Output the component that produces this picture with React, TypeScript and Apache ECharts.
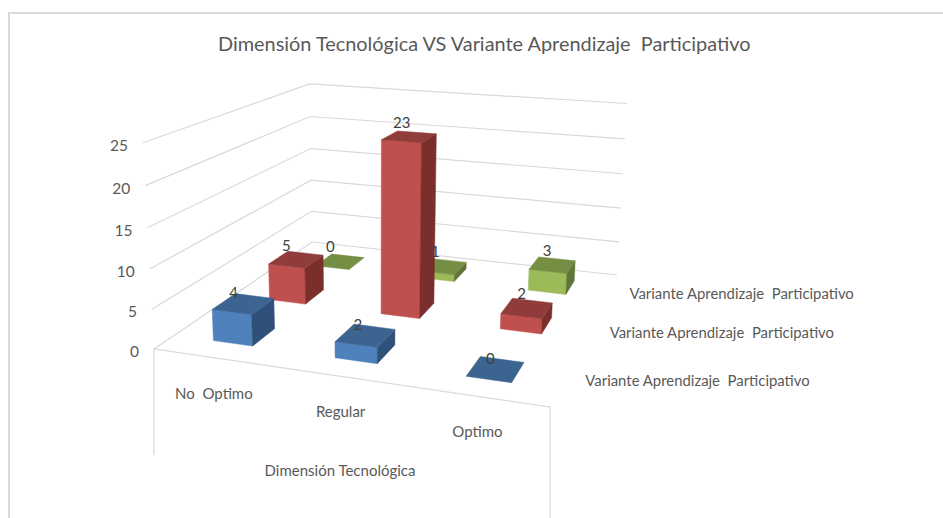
import React, { useEffect, useRef } from "react";
import * as echarts from "echarts";

const W = 943;
const H = 518;
const FONT = "Lato, 'Open Sans', sans-serif";
const TEXT = "#595959";
const RULE = "#d9d9d9";

const titleText = "Dimensión Tecnológica VS Variante Aprendizaje  Participativo";
const axisTitle = "Dimensión Tecnológica";
const categories = ["No  Optimo", "Regular", "Optimo"];
const valueTicks = [0, 5, 10, 15, 20, 25];
const seriesName = "Variante Aprendizaje  Participativo";
const seriesA = [4, 2, 0];
const seriesB = [5, 23, 2];
const seriesC = [0, 1, 3];

const palette = [
  { front: "#4f81bd", top: "#3c6490", side: "#2f5078" },
  { front: "#c0504d", top: "#8f3c3a", side: "#7a2f2d" },
  { front: "#9bbb59", top: "#748f43", side: "#5f7537" },
];

// Projective camera of the chart's box: floor (u, v) in 0..1, height h in 0..1
const CAM = {
  a: 336.16, b: 258.6, c: 154,
  d: 13.7, e: -29, f: 349,
  g: -0.1088, i: 0.3223,
  hx: -17.8, hy: -213, hw: -0.0476,
};
function project(u: number, v: number, h: number): [number, number] {
  const w = CAM.g * u + CAM.i * v + 1 + CAM.hw * h;
  return [
    (CAM.a * u + CAM.b * v + CAM.c + CAM.hx * h) / w,
    (CAM.d * u + CAM.e * v + CAM.f + CAM.hy * h) / w,
  ];
}

const HALF_U = 0.055;
const HALF_V = 0.065;
const YMAX = valueTicks[valueTicks.length - 1];
const LABEL_DY = [-11.5, -15, -15.5];

// Scales come from the hidden cartesian axes (x: 0..3 categories, y: 0..25 values)
function scaled(api: any, x: number, val: number) {
  const p = api.coord([x, val]);
  return { u: p[0] / W, h: (H - p[1]) / H };
}

function text(t: string, x: number, y: number, size: number, align = "center", fill = TEXT) {
  return {
    type: "text",
    silent: true,
    style: { text: t, x, y, fill, fontSize: size, fontFamily: FONT, align, verticalAlign: "middle" },
  };
}

function poly(points: number[][], fill: string) {
  return { type: "polygon", silent: true, shape: { points }, style: { fill, stroke: fill, lineWidth: 0.5 } };
}

function barSeries(values: number[], depth: number) {
  const col = palette[depth];
  const vc = (depth + 0.5) / 3;
  return {
    type: "custom",
    coordinateSystem: "cartesian2d",
    clip: false,
    z: 3 + (2 - depth),
    data: values.map((v, i) => [i + 0.5, v]),
    renderItem: (_: any, api: any) => {
      const { u, h } = scaled(api, api.value(0), api.value(1));
      const u0 = u - HALF_U, u1 = u + HALF_U;
      const v0 = vc - HALF_V, v1 = vc + HALF_V;
      const children: any[] = [];
      if (h > 0) {
        children.push(poly([project(u0, v0, 0), project(u1, v0, 0), project(u1, v0, h), project(u0, v0, h)], col.front));
        children.push(poly([project(u1, v0, 0), project(u1, v1, 0), project(u1, v1, h), project(u1, v0, h)], col.side));
      }
      children.push(poly([project(u0, v0, h), project(u1, v0, h), project(u1, v1, h), project(u0, v1, h)], col.top));
      return { type: "group", children };
    },
  };
}

function labelSeries(values: number[], depth: number) {
  const vc = (depth + 0.5) / 3;
  return {
    type: "custom",
    coordinateSystem: "cartesian2d",
    clip: false,
    z: 10,
    data: values.map((v, i) => [i + 0.5, v]),
    renderItem: (_: any, api: any) => {
      const { u, h } = scaled(api, api.value(0), api.value(1));
      const p = project(u, vc, h);
      return text(String(api.value(1)), p[0] - 11 + 7 * u, p[1] + LABEL_DY[depth], 15, "center", "#404040");
    },
  };
}

const wallSeries = {
  type: "custom",
  coordinateSystem: "cartesian2d",
  clip: false,
  z: 1,
  data: valueTicks.map((t) => [0, t]),
  renderItem: (_: any, api: any) => {
    const val = api.value(1);
    const { h } = scaled(api, 0, val);
    const start = project(0, 0, h);
    return {
      type: "group",
      children: [
        {
          type: "polyline",
          silent: true,
          shape: { points: [start, project(0, 1, h), project(1, 1, h)] },
          style: { stroke: RULE, lineWidth: 1.2, fill: "none" },
        },
        text(String(val), start[0] - 15, start[1] + 2, 15.5, "right"),
      ],
    };
  },
};

const floorEdgeSeries = {
  type: "custom",
  coordinateSystem: "cartesian2d",
  clip: false,
  z: 1,
  data: categories.map((_, i) => [i + 0.5, 0]),
  renderItem: (params: any, api: any) => {
    const { u } = scaled(api, api.value(0), 0);
    const p = project(u, 0, 0);
    const children: any[] = [text(categories[params.dataIndex], p[0], p[1] + 35, 15)];
    if (params.dataIndex === 0) {
      const a = project(0, 0, 0);
      const b = project(1, 0, 0);
      children.push({
        type: "polyline",
        silent: true,
        shape: { points: [[a[0], 455], a, b, [b[0], H]] },
        style: { stroke: RULE, lineWidth: 1.2, fill: "none" },
      });
    }
    return { type: "group", children };
  },
};

const depthLabelSeries = {
  type: "custom",
  coordinateSystem: "cartesian2d",
  clip: false,
  z: 1,
  data: [0, 1, 2].map((d) => [3, d]),
  renderItem: (_: any, api: any) => {
    const p = project(1, (api.value(1) + 0.5) / 3, 0);
    return text(seriesName, p[0] + 21, p[1] + 1, 14.9, "left");
  },
};

export default function App() {
  const ref = useRef<HTMLDivElement>(null);
  useEffect(() => {
    if (!ref.current) return;
    const chart = echarts.init(ref.current, undefined, { renderer: "svg" });
    chart.setOption({
      animation: false,
      backgroundColor: "#ffffff",
      title: {
        text: titleText,
        left: 213,
        top: 28,
        textStyle: { fontFamily: FONT, fontSize: 19.9, fontWeight: "normal", color: TEXT },
      },
      grid: { left: 0, top: 0, right: 0, bottom: 0 },
      xAxis: { type: "value", min: 0, max: 3, show: false },
      yAxis: { type: "value", min: 0, max: YMAX, show: false },
      graphic: [
        {
          type: "polyline",
          silent: true,
          shape: { points: [[9, H], [9, 13], [W, 13]] },
          style: { stroke: RULE, lineWidth: 2, fill: "none" },
        },
        {
          type: "text",
          silent: true,
          x: 340,
          y: 470,
          style: { text: axisTitle, fill: TEXT, fontSize: 15, fontFamily: FONT, align: "center", verticalAlign: "middle" },
        },
      ],
      series: [
        wallSeries,
        floorEdgeSeries,
        depthLabelSeries,
        barSeries(seriesC, 2),
        barSeries(seriesB, 1),
        barSeries(seriesA, 0),
        labelSeries(seriesC, 2),
        labelSeries(seriesB, 1),
        labelSeries(seriesA, 0),
      ],
    });
    return () => chart.dispose();
  }, []);
  return <div ref={ref} style={{ position: "fixed", left: 0, top: 0, width: W, height: H }} />;
}
